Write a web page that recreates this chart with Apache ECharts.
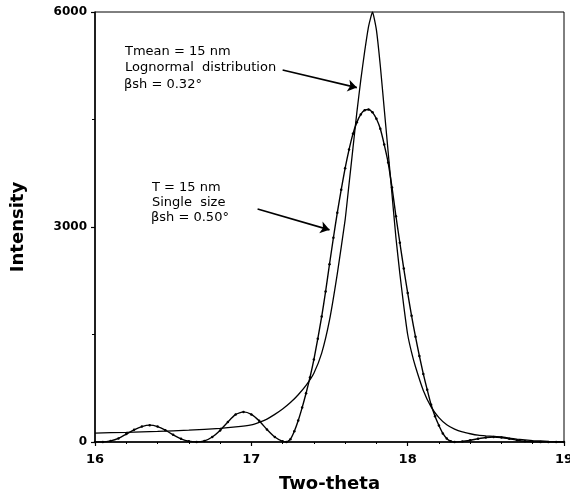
<!DOCTYPE html>
<html>
<head>
<meta charset="utf-8">
<script src="https://cdn.jsdelivr.net/npm/echarts@6/dist/echarts.min.js"></script>
<style>html,body{margin:0;padding:0;background:#fff;overflow:hidden;}#c{width:570px;height:501px;}</style>
</head>
<body>
<div id="c"></div>
<script>
// Single size (T = 15 nm) profile
var singleTheta = [16.00,16.05,16.10,16.15,16.20,16.25,16.30,16.35,16.40,16.45,16.50,16.55,16.60,16.65,16.70,16.75,16.80,16.85,16.90,16.95,17.00,17.05,17.10,17.15,17.20,17.225,
  17.25,17.275,17.30,17.325,17.35,17.375,17.40,17.425,17.45,17.475,17.50,17.525,17.55,17.575,17.60,17.625,17.65,17.675,17.70,17.725,17.75,17.775,17.80,17.825,17.85,17.875,17.90,17.925,17.95,17.975,18.00,18.025,18.05,18.075,18.10,18.125,18.15,18.175,18.20,18.225,18.25,18.275,18.30,
  18.35,18.40,18.45,18.50,18.55,18.60,18.65,18.70,18.75,18.80,18.85,18.90,18.95,19.00];
var singleIntensity = [0,0,15,50,110,170,215,235,215,165,100,45,10,0,15,70,160,280,385,420,385,295,175,70,10,0,
  40,150,300,480,680,900,1150,1440,1750,2100,2480,2850,3200,3520,3820,4080,4300,4460,4570,4630,4640,4600,4510,4370,4150,3900,3550,3150,2780,2420,2080,1760,1470,1200,950,730,520,360,230,120,50,12,0,
  8,25,45,62,70,62,45,25,10,2,0,0,0,0];
// Lognormal distribution (Tmean = 15 nm) profile
var lognormTheta = [16.00,16.20,16.40,16.60,16.80,16.90,17.00,17.05,17.10,17.15,17.20,17.25,17.30,17.35,17.40,17.45,17.50,17.55,17.60,17.625,17.65,17.675,17.70,17.725,17.75,17.775,17.80,17.825,17.85,17.875,17.90,17.925,17.95,17.975,18.00,18.025,18.05,18.10,18.15,18.20,18.25,18.30,18.35,18.40,18.45,18.50,18.55,18.60,18.65,18.70,18.80,18.90,19.00];
var lognormIntensity = [125,135,148,165,190,210,240,275,320,385,460,550,660,790,960,1240,1700,2350,3100,3600,4100,4600,5050,5450,5800,6000,5750,5250,4650,4050,3450,2850,2350,1900,1500,1250,1050,720,490,340,240,180,140,115,95,85,78,70,55,40,20,8,0];
var xTicks = [16, 17, 18, 19];
var yTicks = [0, 3000, 6000];

function pairs(xs, ys) { return xs.map(function (x, i) { return [x, ys[i]]; }); }

var chart = echarts.init(document.getElementById('c'), null, { renderer: 'canvas' });
var FONT = 'DejaVu Sans';
chart.setOption({
  animation: false,
  backgroundColor: '#fff',
  grid: { left: 95, right: 6, top: 12, bottom: 59, show: true, borderColor: '#000', borderWidth: 1, outerBoundsMode: 'none', containLabel: false },
  xAxis: {
    type: 'value', min: xTicks[0], max: xTicks[xTicks.length - 1], interval: 1,
    name: 'Two-theta', nameLocation: 'middle', nameGap: 33,
    nameTextStyle: { fontFamily: FONT, fontWeight: 'bold', fontSize: 18, color: '#000' },
    axisLine: { lineStyle: { color: '#000', width: 1.5 } },
    axisTick: { length: 4, lineStyle: { color: '#000', width: 1.2 } },
    minorTick: { show: true, splitNumber: 5, length: 2, lineStyle: { color: '#000' } },
    splitLine: { show: false },
    axisLabel: { fontFamily: FONT, fontWeight: 'bold', fontSize: 13, color: '#000', margin: 11,
      formatter: function (v) { return String(v); } }
  },
  yAxis: {
    type: 'value', min: yTicks[0], max: yTicks[yTicks.length - 1], interval: 3000,
    name: 'Intensity', nameLocation: 'middle', nameGap: 68,
    nameTextStyle: { fontFamily: FONT, fontWeight: 'bold', fontSize: 18, color: '#000' },
    axisLine: { lineStyle: { color: '#000', width: 1.5 } },
    axisTick: { length: 4, lineStyle: { color: '#000', width: 1.2 } },
    minorTick: { show: true, splitNumber: 2, length: 3, lineStyle: { color: '#000' } },
    splitLine: { show: false },
    axisLabel: { fontFamily: FONT, fontWeight: 'bold', fontSize: 12, color: '#000', margin: 8,
      formatter: function (v) { return String(v); } }
  },
  series: [
    {
      name: 'Lognormal distribution', type: 'line', smooth: 0.15,
      data: pairs(lognormTheta, lognormIntensity),
      showSymbol: false,
      lineStyle: { color: '#000', width: 1.3 },
      markLine: {
        silent: true, symbol: ['none', 'arrow'], symbolSize: 9,
        label: { show: false },
        lineStyle: { color: '#000', width: 1.6, type: 'solid' },
        data: [
          [{ coord: [17.20, 5190] }, { coord: [17.675, 4945] }],
          [{ coord: [17.04, 3250] }, { coord: [17.50, 2960] }]
        ]
      }
    },
    {
      name: 'Single size', type: 'line', smooth: 0.2,
      data: pairs(singleTheta, singleIntensity),
      showSymbol: true, showAllSymbol: true, symbol: 'circle', symbolSize: 2.5,
      itemStyle: { color: '#000' },
      lineStyle: { color: '#000', width: 1.4 }
    }
  ],
  graphic: [
    { type: 'text', left: 125, top: 45, style: { text: 'Tmean = 15 nm', font: '13px "DejaVu Sans"', fill: '#000' } },
    { type: 'text', left: 125, top: 61, style: { text: 'Lognormal  distribution', font: '13px "DejaVu Sans"', fill: '#000' } },
    { type: 'text', left: 124, top: 78, style: { text: 'βsh = 0.32°', font: '13px "DejaVu Sans"', fill: '#000' } },
    { type: 'text', left: 152, top: 181, style: { text: 'T = 15 nm', font: '13px "DejaVu Sans"', fill: '#000' } },
    { type: 'text', left: 152, top: 196, style: { text: 'Single  size', font: '13px "DejaVu Sans"', fill: '#000' } },
    { type: 'text', left: 151, top: 211, style: { text: 'βsh = 0.50°', font: '13px "DejaVu Sans"', fill: '#000' } }
  ]
});
</script>
</body>
</html>
